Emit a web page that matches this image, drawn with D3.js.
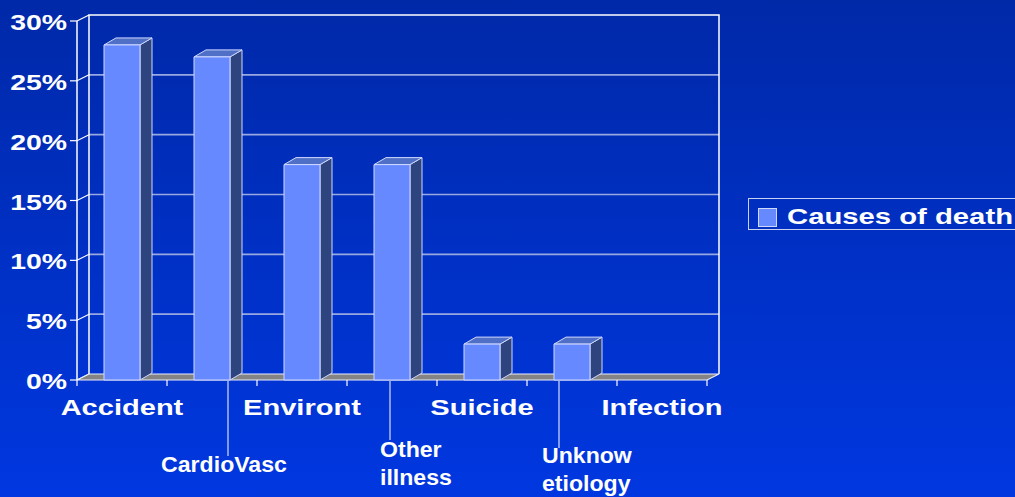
<!DOCTYPE html>
<html><head><meta charset="utf-8">
<script src="https://cdn.jsdelivr.net/npm/d3@7"></script>
<style>html,body{margin:0;padding:0;overflow:hidden;background:#0030c8}</style>
</head><body>
<script>
const categories = ["Accident","CardioVasc","Environt","Other illness","Suicide","Unknow etiology","Infection"];
const values = [28, 27, 18, 18, 3, 3, 0];
const seriesName = "Causes of death";
const yTicks = [0, 5, 10, 15, 20, 25, 30];
const yTickLabels = ["0%","5%","10%","15%","20%","25%","30%"];

const W = 1015, H = 497;
const svg = d3.select("body").append("svg").attr("width", W).attr("height", H)
  .style("font-family", "'Liberation Sans', Arial, sans-serif").style("font-weight", "bold");

const defs = svg.append("defs");
const g1 = defs.append("linearGradient").attr("id","bg").attr("x1",0).attr("y1",0).attr("x2",0).attr("y2",1);
g1.append("stop").attr("offset","0%").attr("stop-color","#0029a8");
g1.append("stop").attr("offset","100%").attr("stop-color","#0037e0");
svg.append("rect").attr("width",W).attr("height",H).attr("fill","url(#bg)");

// 3D geometry
const DX = 12, DY = -6;
const x = d3.scaleBand().domain(categories).range([77, 707]).paddingInner(0).paddingOuter(0);
const y = d3.scaleLinear().domain([0, 30]).range([380, 21]);
const x0 = 77, x1 = 707, yb = y(0), yt = y(30);
const wallCol = "#ffffff", gridCol = "#98a8e0";

yTicks.forEach(t => {
  if (t === 0 || t === 30) return;
  svg.append("line").attr("x1", x0 + DX).attr("x2", x1 + DX)
    .attr("y1", y(t) + DY).attr("y2", y(t) + DY)
    .attr("stroke", gridCol).attr("stroke-width", 1.6);
});
yTicks.forEach(t => {
  svg.append("line").attr("x1", x0).attr("x2", x0 + DX).attr("y1", y(t)).attr("y2", y(t) + DY)
    .attr("stroke", wallCol).attr("stroke-width", 1.2);
  svg.append("line").attr("x1", x0 - 7).attr("x2", x0).attr("y1", y(t)).attr("y2", y(t))
    .attr("stroke", wallCol).attr("stroke-width", 1.2);
});
svg.append("path").attr("d", `M${x0+DX},${yb+DY}V${yt+DY}H${x1+DX}V${yb+DY}`)
  .attr("fill","none").attr("stroke", wallCol).attr("stroke-width", 1.5);
svg.append("path").attr("d", `M${x0},${yb}L${x0+DX},${yb+DY}H${x1+DX}L${x1},${yb}Z`)
  .attr("fill","#848484").attr("stroke","#e8ecff").attr("stroke-width",1.2);
svg.append("line").attr("x1",x0).attr("x2",x0).attr("y1",yt).attr("y2",yb)
  .attr("stroke",wallCol).attr("stroke-width",1.5);

const bw = x.bandwidth() * 0.4;
const BDX = 12, BDY = -7;
const barG = svg.append("g");
categories.forEach((c, i) => {
  const v = values[i];
  if (v <= 0) return;
  const bx = x(c) + (x.bandwidth() - bw) / 2, by = y(v), bb = y(0);
  const g = barG.append("g").attr("stroke","#d0d8ff").attr("stroke-width",1).attr("stroke-linejoin","round");
  g.append("path").attr("d", `M${bx+bw},${bb}L${bx+bw+BDX},${bb+BDY}V${by+BDY}L${bx+bw},${by}Z`).attr("fill","#2e447f");
  g.append("path").attr("d", `M${bx},${by}L${bx+BDX},${by+BDY}H${bx+bw+BDX}L${bx+bw},${by}Z`).attr("fill","#5070c8");
  g.append("rect").attr("x",bx).attr("y",by).attr("width",bw).attr("height",bb-by).attr("fill","#6689ff");
});

d3.range(categories.length + 1).forEach(k => {
  const tx = x0 + k * x.step();
  svg.append("line").attr("x1",tx).attr("x2",tx).attr("y1",yb).attr("y2",yb+6)
    .attr("stroke",wallCol).attr("stroke-width",1.2);
});

function fitText(sel, sx) {
  sel.each(function() {
    const n = this.getComputedTextLength();
    d3.select(this).attr("textLength", n * sx).attr("lengthAdjust", "spacingAndGlyphs");
  });
}

yTicks.forEach((t, i) => {
  const tx = svg.append("text").attr("x", 67).attr("y", y(t) + 9)
    .attr("text-anchor","end").attr("fill","#fff").attr("font-size",22).text(yTickLabels[i]);
  fitText(tx, 1.29);
});

const lowerLayout = {
  "CardioVasc": {lead: 16, leadEnd: 456, lines: [{dx: 12, y: 472, anchor: "middle"}]},
  "Other illness": {lead: -2, leadEnd: 440, lines: [{dx: -12, y: 457, anchor: "start"}, {dx: -12, y: 485, anchor: "start"}]},
  "Unknow etiology": {lead: -13, leadEnd: 448, lines: [{dx: -30, y: 463, anchor: "start"}, {dx: -30, y: 491, anchor: "start"}]}
};
categories.forEach((c, i) => {
  const cx = x(c) + x.bandwidth() / 2;
  if (i % 2 === 0) {
    const t = svg.append("text").attr("x", cx).attr("y", 415).attr("text-anchor","middle")
      .attr("fill","#fff").attr("font-size",22).text(c);
    fitText(t, 1.32);
  } else {
    const L = lowerLayout[c];
    svg.append("line").attr("x1", cx + L.lead).attr("x2", cx + L.lead).attr("y1", yb + 1).attr("y2", L.leadEnd)
      .attr("stroke","#d8def8").attr("stroke-width",1.2);
    const words = L.lines.length === 1 ? [c] : c.split(" ");
    words.forEach((w, j) => {
      const ln = L.lines[j];
      const t = svg.append("text").attr("x", cx + ln.dx).attr("y", ln.y).attr("text-anchor", ln.anchor)
        .attr("fill","#fff").attr("font-size",22).text(w);
      fitText(t, 1.05);
    });
  }
});

svg.append("rect").attr("x",748.5).attr("y",198.5).attr("width",280).attr("height",31)
  .attr("fill","none").attr("stroke","#c8d0f4").attr("stroke-width",1);
svg.append("rect").attr("x",758.5).attr("y",208.5).attr("width",18).attr("height",18)
  .attr("fill","#6689ff").attr("stroke","#d0d8ff").attr("stroke-width",1);
const lt = svg.append("text").attr("x",787).attr("y",224).attr("fill","#fff").attr("font-size",22).text(seriesName);
fitText(lt, 1.33);
</script>
</body></html>
